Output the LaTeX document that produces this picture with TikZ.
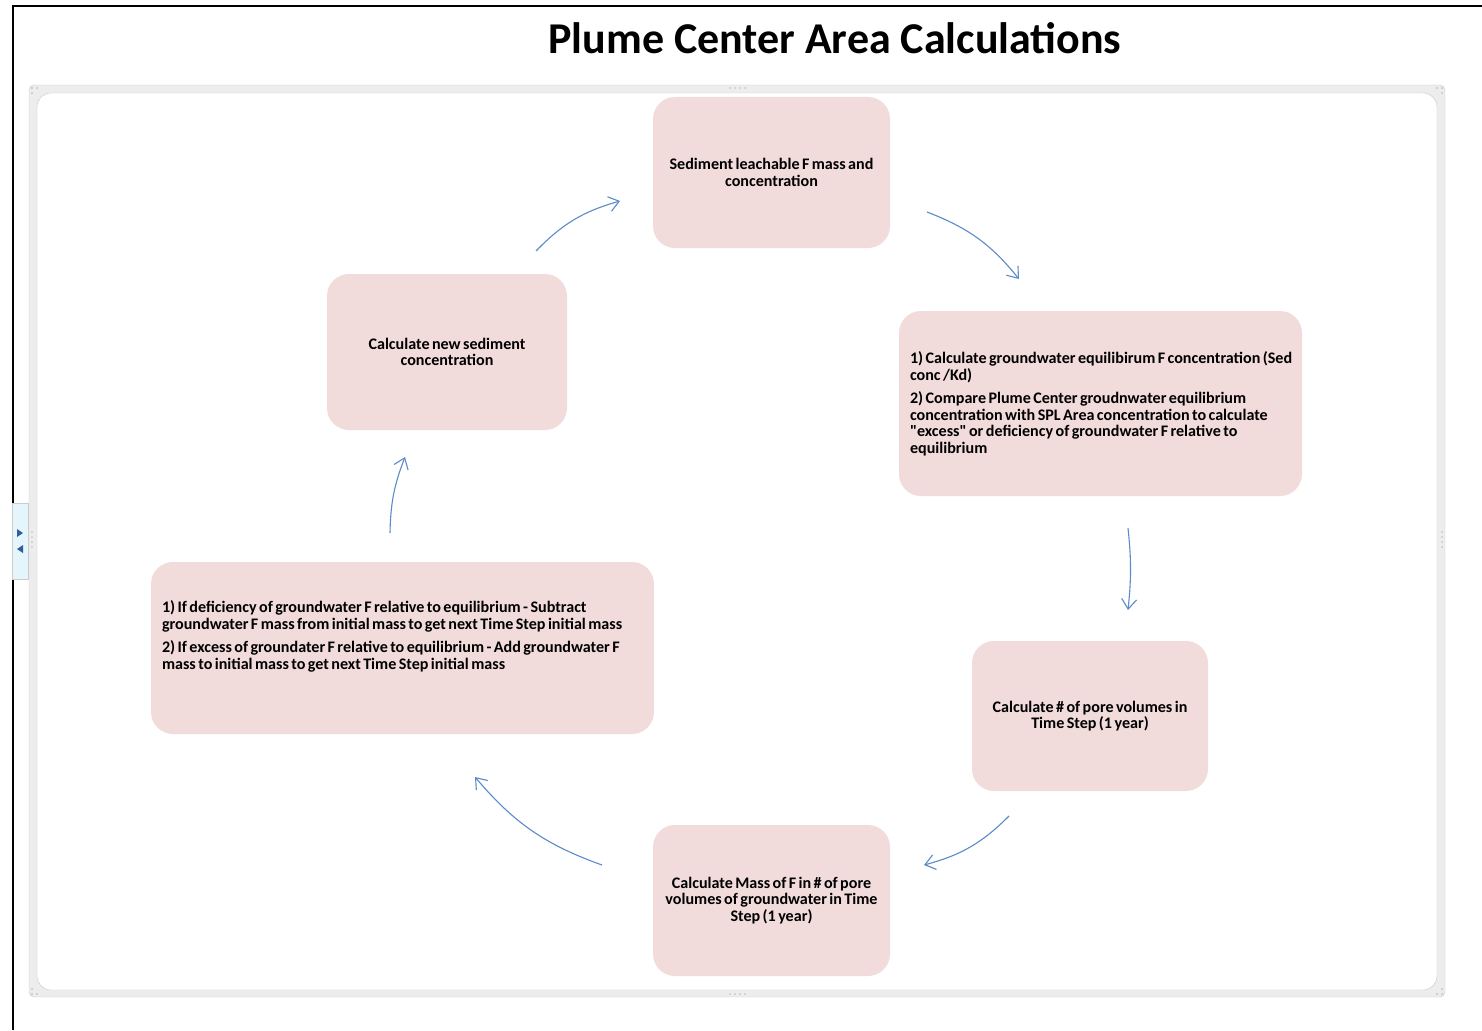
\documentclass[tikz,border=0pt]{standalone}
\usepackage{fontspec}
\setmainfont{Carlito}[Ligatures=TeXOff]
\usetikzlibrary{arrows.meta}

\definecolor{stagefill}{HTML}{F2DCDB}
\definecolor{flowblue}{HTML}{5B8BC8}
\definecolor{tabfill}{HTML}{E4F6FC}
\definecolor{tabmark}{HTML}{2E5E9C}

% tight word spacing in the stage labels
\newcommand\stagefont{\bfseries\fontsize{16.1}{16.7}\selectfont\spaceskip=0.15em plus 0.05em}

\tikzset{
  stage/.style={rectangle, rounded corners=22pt, fill=stagefill, inner sep=0pt,
    font=\stagefont, align=center},
  stagetext/.style={inner sep=0pt, font=\stagefont, align=left, anchor=north west},
  flow/.style={draw=flowblue, line width=1.1pt,
    -{Straight Barb[length=10pt, width=15pt, line width=1.1pt]}},
  grip/.style={fill=gray!45, draw=none}
}

\begin{document}
\begin{tikzpicture}[x=1pt, y=-1pt]
  \useasboundingbox (0,0) rectangle (1482,1030);

  % page frame and side tab
  \draw[line width=2.6pt] (13,1030) -- (13,579);
  \draw[line width=2.6pt] (13,503) -- (13,6) -- (1482,6);
  \draw[fill=tabfill, draw=gray!40] (12,503) rectangle (28,579);
  \fill[tabmark] (17,529) -- (23,533) -- (17,537) -- cycle;
  \fill[tabmark] (23,545) -- (17,549) -- (23,553) -- cycle;

  % canvas border
  \draw[fill=gray!14, draw=gray!40, rounded corners=5pt] (29,85) rectangle (1445,997);
  \draw[fill=white, draw=gray!45, rounded corners=14pt] (37,93) rectangle (1437,990);
  \foreach \x/\y in {32/88, 37/88, 32/93, 1437/88, 1442/88, 1442/93,
                     1442/989, 1437/994, 1442/994, 32/989, 32/994, 37/994}
    \fill[grip] (\x,\y) circle (1.1pt);
  \foreach \i in {0,...,3} {
    \fill[grip] (730+5*\i,88) circle (1pt);
    \fill[grip] (730+5*\i,994) circle (1pt);
    \fill[grip] (32,532+5*\i) circle (1pt);
    \fill[grip] (1442,532+5*\i) circle (1pt);
  }

  \node[anchor=base, font=\bfseries\fontsize{44}{50}\selectfont] (title) at (835,54)
    {Plume Center Area Calculations};

  % cycle stages
  \node[stage, minimum width=237pt, minimum height=151pt] (sed) at (771.5,172.5)
    {Sediment leachable F mass and\\concentration};
  \node[stage, minimum width=403pt, minimum height=185pt] (gwc) at (1100.5,403.5) {};
  \node[stagetext] (gwctext) at ([xshift=11pt, yshift=-41pt]gwc.north west)
    {1) Calculate groundwater equilibirum F concentration (Sed\\conc /Kd)\\[6pt]
     2) Compare Plume Center groudnwater equilibrium\\concentration with SPL Area concentration to calculate\\"excess" or deficiency of groundwater F relative to\\equilibrium};
  \node[stage, minimum width=236pt, minimum height=150pt] (pore) at (1090,716)
    {Calculate \# of pore volumes in\\Time Step (1 year)};
  \node[stage, minimum width=237pt, minimum height=151pt] (mass) at (771.5,900.5)
    {Calculate Mass of F in \# of pore\\volumes of groundwater in Time\\Step (1 year)};
  \node[stage, minimum width=503pt, minimum height=172pt] (adjust) at (402.5,648) {};
  \node[stagetext] (adjusttext) at ([xshift=11pt, yshift=-39pt]adjust.north west)
    {1) If deficiency of groundwater F relative to equilibrium - Subtract\\groundwater F mass from initial mass to get next Time Step initial mass\\[6pt]
     2) If excess of groundater F relative to equilibrium - Add groundwater F\\mass to initial mass to get next Time Step initial mass};
  \node[stage, minimum width=240pt, minimum height=156pt] (newsed) at (447,352)
    {Calculate new sediment\\concentration};

  % arrow ends
  \coordinate (a1) at (927,212);  \coordinate (b1) at (1019,279);
  \coordinate (a2) at (1128,528); \coordinate (b2) at (1128,610);
  \coordinate (a3) at (1009,816); \coordinate (b3) at (924,865);
  \coordinate (a4) at (602,865);  \coordinate (b4) at (475,777);
  \coordinate (a5) at (390,533);  \coordinate (b5) at (405,457);
  \coordinate (a6) at (536,251);  \coordinate (b6) at (620,201);

  \foreach \s/\e/\b in {a1/b1/15, a2/b2/6, a3/b3/15, a4/b4/15, a5/b5/10, a6/b6/15}
    \draw[flow] (\s) to[bend left=\b] (\e);
\end{tikzpicture}
\end{document}
